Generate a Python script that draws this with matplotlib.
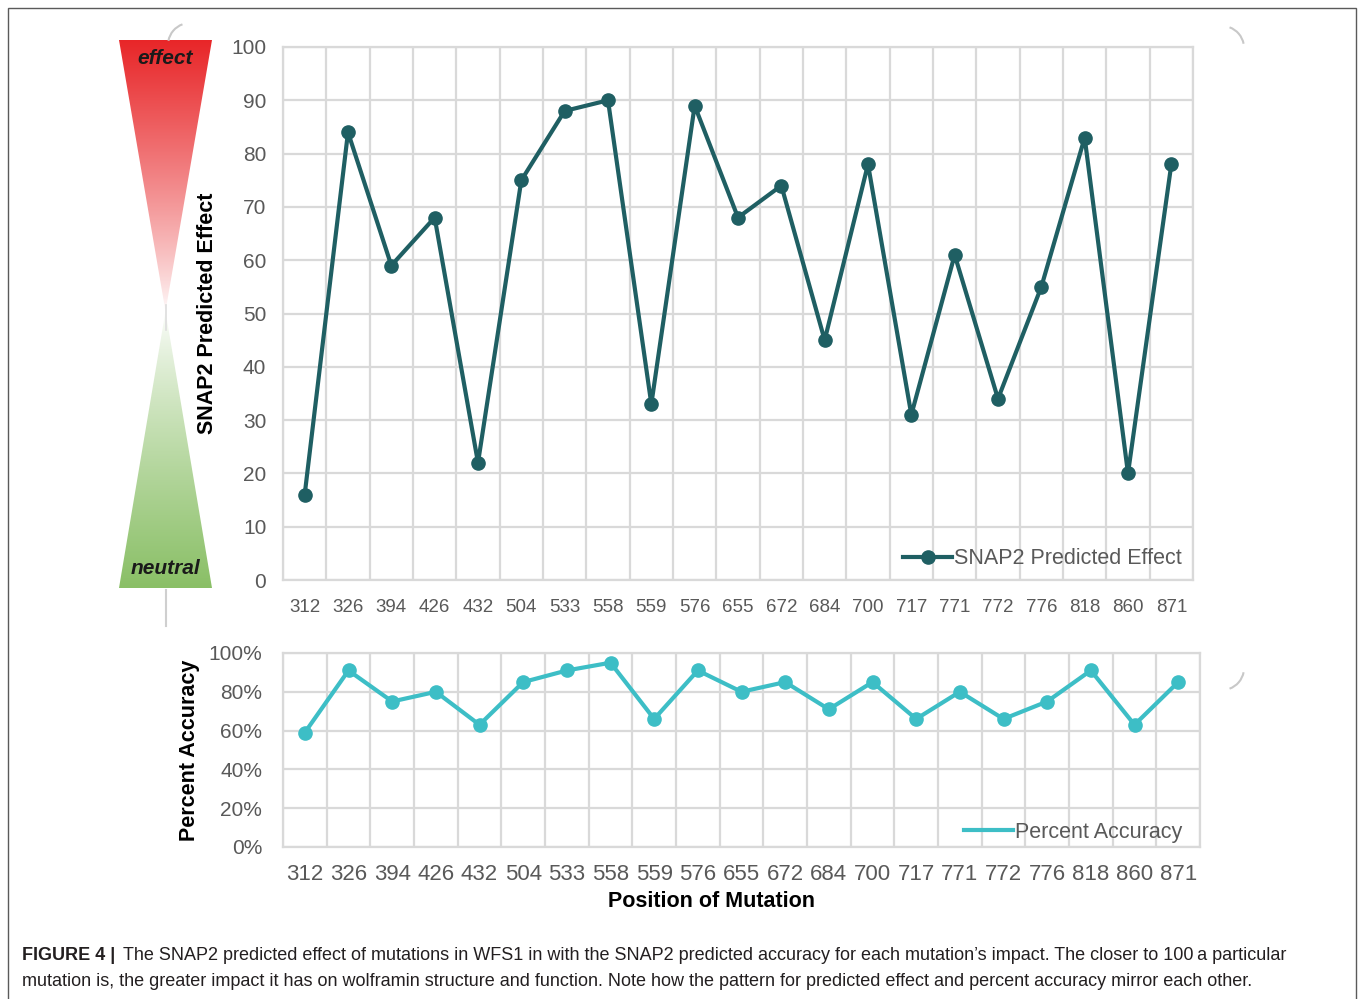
import numpy as np
import matplotlib
matplotlib.use("Agg")
import matplotlib.pyplot as plt
from matplotlib.patches import Polygon, Rectangle, Arc
from matplotlib.lines import Line2D

plt.rcParams['font.family'] = ['Liberation Sans', 'DejaVu Sans']

# --- data ---
positions = ['312', '326', '394', '426', '432', '504', '533', '558', '559', '576', '655',
             '672', '684', '700', '717', '771', '772', '776', '818', '860', '871']
snap2_effect = [16, 84, 59, 68, 22, 75, 88, 90, 33, 89, 68, 74, 45, 78, 31, 61, 34, 55, 83, 20, 78]
pct_accuracy = [59, 91, 75, 80, 63, 85, 91, 95, 66, 91, 80, 85, 71, 85, 66, 80, 66, 75, 91, 63, 85]
effect_ticks = list(range(0, 101, 10))
acc_ticks = list(range(0, 101, 20))

W, H = 1360, 999
TICK_COL = '#595959'
GRID_COL = '#d9d9d9'
DARK_TEAL = '#1f5f63'
LIGHT_TEAL = '#3dbec6'


def fx(px):
    return px / W


def fy(py):
    return 1 - py / H


fig = plt.figure(figsize=(W / 100, H / 100), dpi=100)

x = np.arange(len(positions))


def style_axes(ax, yticks, ylabels, tick_size, xpad, ypad):
    ax.set_xlim(-0.5, len(positions) - 0.5)
    ax.set_ylim(0, 100)
    ax.set_xticks(x)
    ax.set_xticklabels(positions)
    ax.set_xticks(np.arange(-0.5, len(positions)), minor=True)
    ax.set_yticks(yticks)
    ax.set_yticklabels(ylabels)
    ax.tick_params(which='both', length=0)
    ax.tick_params(axis='x', labelsize=tick_size, colors=TICK_COL, pad=xpad)
    ax.tick_params(axis='y', labelsize=15, colors=TICK_COL, pad=ypad)
    ax.grid(True, which='major', axis='y', color=GRID_COL, lw=1.6)
    ax.grid(True, which='minor', axis='x', color=GRID_COL, lw=1.6)
    ax.set_axisbelow(True)
    for s in ax.spines.values():
        s.set_color(GRID_COL)
        s.set_linewidth(1.6)


# top chart: predicted effect
top_w = 1193 - 283
ax1 = fig.add_axes([fx(283), fy(580), fx(1193) - fx(283), fy(47) - fy(580)])
style_axes(ax1, effect_ticks, [str(t) for t in effect_ticks], 13.5, 14, 12)
ax1.plot(x, snap2_effect, color=DARK_TEAL, lw=3.0, marker='o', ms=9.5,
         label='SNAP2 Predicted Effect', clip_on=False)
ax1.set_ylabel('SNAP2 Predicted Effect', fontsize=15.5, fontweight='bold')
ax1.yaxis.set_label_coords((218 - 283) / top_w, 0.5)
ax1.legend(loc='lower right', bbox_to_anchor=(1, 0), frameon=False, fontsize=15.5,
           handlelength=2.3, handletextpad=0.1, borderaxespad=0.0, borderpad=0.5,
           labelcolor=TICK_COL)

# bottom chart: percent accuracy
bot_w = 1200 - 283
ax2 = fig.add_axes([fx(283), fy(847), fx(1200) - fx(283), fy(653) - fy(847)])
style_axes(ax2, acc_ticks, [f'{t}%' for t in acc_ticks], 16, 12, 15)
ax2.plot(x, pct_accuracy, color=LIGHT_TEAL, lw=3.0, marker='o', ms=9.5,
         label='Percent Accuracy', clip_on=False)
ax2.set_xlabel('Position of Mutation', fontsize=15.5, fontweight='bold')
ax2.xaxis.set_label_coords((711 - 283) / bot_w, -0.227)
ax2.set_ylabel('Percent Accuracy', fontsize=15.5, fontweight='bold')
ax2.yaxis.set_label_coords((200 - 283) / bot_w, 0.5)
handle2 = Line2D([], [], color=LIGHT_TEAL, lw=3.0)
ax2.legend([handle2], ['Percent Accuracy'], loc='lower right',
           bbox_to_anchor=(1 - 13 / bot_w, 0), frameon=False, fontsize=15.5,
           handlelength=2.3, handletextpad=0.1, borderaxespad=0.0, borderpad=0.2,
           labelcolor=TICK_COL)

# hourglass gradient: red "effect" on top, green "neutral" at the bottom
axg = fig.add_axes([fx(119), fy(588), fx(212) - fx(119), fy(40) - fy(588)])
axg.set_xlim(0, 1)
axg.set_ylim(0, 1)
axg.axis('off')
n = 400
t = np.linspace(0, 1, n)
red = np.array([0.91, 0.15, 0.16])
green = np.array([0.54, 0.75, 0.40])
white = np.array([1.0, 1.0, 1.0])
img = np.zeros((n, 1, 3))
mid = 0.505
for i in range(n):
    v = t[i]
    if v >= mid:
        a = (v - mid) / (1 - mid)
        img[i, 0] = white + (red - white) * a ** 0.8
    else:
        a = (mid - v) / mid
        img[i, 0] = white + (green - white) * a ** 0.8
im = axg.imshow(img, extent=[0, 1, 0, 1], origin='lower', aspect='auto')
hourglass = Polygon([(0, 1), (1, 1), (0.5, mid), (1, 0), (0, 0), (0.5, mid)],
                    closed=True, transform=axg.transData, facecolor='none', edgecolor='none')
axg.add_patch(hourglass)
im.set_clip_path(hourglass)
axg.text(0.5, 0.966, 'effect', ha='center', va='center', fontsize=15, fontweight='bold',
         style='italic', color='#1a1a1a')
axg.text(0.5, 0.036, 'neutral', ha='center', va='center', fontsize=15, fontweight='bold',
         style='italic', color='#1a1a1a')

# faint decorative leftovers around the panel
fig.add_artist(Line2D([fx(166), fx(166)], [fy(590), fy(626)], color='#cfcfcf', lw=1.5,
                      transform=fig.transFigure))
fig.add_artist(Line2D([fx(166), fx(166)], [fy(305), fy(330)], color='#dddddd', lw=1.2,
                      transform=fig.transFigure))
for cx, cy, t1, t2 in [(190, 45, 105, 165), (1222, 48, 15, 75), (1222, 668, -75, -15)]:
    fig.add_artist(Arc((fx(cx), fy(cy)), 44 / W, 44 / H, theta1=t1, theta2=t2,
                       color='#c8c8c8', lw=1.5, transform=fig.transFigure))

# outer frame
fig.add_artist(Rectangle((fx(8), fy(1010)), fx(1356) - fx(8), fy(8) - fy(1010),
                         fill=False, edgecolor='#5a5a5a', lw=1.0, transform=fig.transFigure,
                         clip_on=False))

# caption
fig.text(fx(22), fy(956), 'FIGURE 4 |', fontsize=13, fontweight='bold', va='center',
         color='#231f20')
fig.text(fx(123), fy(956),
         'The SNAP2 predicted effect of mutations in WFS1 in with the SNAP2 predicted accuracy '
         'for each mutation\u2019s impact. The closer to 100\u2009a particular',
         fontsize=13, va='center', color='#231f20')
fig.text(fx(22), fy(981),
         'mutation is, the greater impact it has on wolframin structure and function. Note how '
         'the pattern for predicted effect and percent accuracy mirror each other.',
         fontsize=13, va='center', color='#231f20')

fig.savefig('out.png', dpi=100)
